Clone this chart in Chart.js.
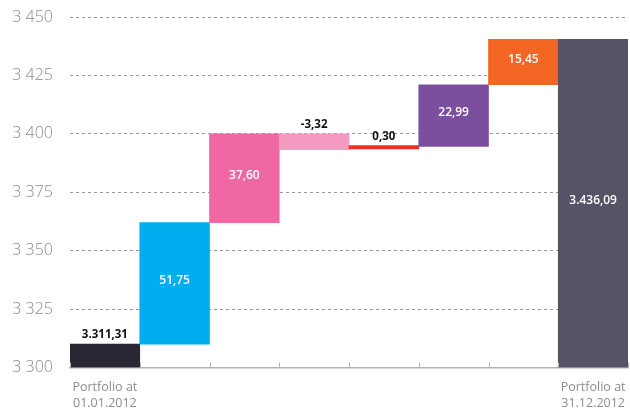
<!DOCTYPE html>
<html>
<head>
<meta charset="utf-8">
<script src="https://cdn.jsdelivr.net/npm/chart.js@4/dist/chart.umd.min.js"></script>
<style>
html,body{margin:0;padding:0;background:#fff;}
canvas{display:block;}
</style>
</head>
<body>
<canvas id="c" width="630" height="409"></canvas>
<script>
// Data
const categories = [
  ['Portfolio at', '01.01.2012'], '', '', '', '', '', '', ['Portfolio at', '31.12.2012']
];
const barStart = [3300, 3310, 3362, 3393.2, 3393.5, 3394.6, 3421, 3300];
const barEnd   = [3310, 3362, 3400, 3400,   3395,   3421,   3440.4, 3440.4];
const valueLabels = ['3.311,31', '51,75', '37,60', '-3,32', '0,30', '22,99', '15,45', '3.436,09'];
const yTicks = [3300, 3325, 3350, 3375, 3400, 3425, 3450];

const barColors = ['#2a2634', '#00aeef', '#ef67a3', '#f49ac1', '#ee3124', '#7b4f9e', '#f26522', '#575366'];
const FONT = '"Open Sans", Lato, sans-serif';

const ranges = barStart.map((s, i) => [s, barEnd[i]]);

const valueLabelPlugin = {
  id: 'valueLabels',
  afterDatasetsDraw(chart) {
    const ctx = chart.ctx;
    const meta = chart.getDatasetMeta(0);
    const y = chart.scales.y;
    ctx.save();
    ctx.textAlign = 'center';
    ctx.textBaseline = 'middle';
    meta.data.forEach((bar, i) => {
      const top = y.getPixelForValue(Math.max(barStart[i], barEnd[i]));
      const bot = y.getPixelForValue(Math.min(barStart[i], barEnd[i]));
      const h = bot - top;
      if (h > 30) {
        ctx.fillStyle = '#ffffff';
        ctx.font = '600 12px ' + FONT;
        ctx.fillText(valueLabels[i], bar.x, (top + bot) / 2 - 3);
      } else {
        ctx.fillStyle = '#111111';
        ctx.font = 'bold 11.5px ' + FONT;
        ctx.fillText(valueLabels[i], bar.x, top - 9);
      }
    });
    ctx.restore();
  }
};

const tickMarkPlugin = {
  id: 'catTicks',
  afterDraw(chart) {
    const ctx = chart.ctx;
    const x = chart.scales.x;
    const y0 = chart.scales.y.getPixelForValue(3300);
    const n = categories.length;
    const step = x.getPixelForValue(1) - x.getPixelForValue(0);
    ctx.save();
    ctx.strokeStyle = '#b4b4b4';
    ctx.lineWidth = 1;
    for (let i = 0; i <= n; i++) {
      const px = Math.round(x.getPixelForValue(i) - step / 2) + 0.5;
      ctx.beginPath();
      ctx.moveTo(px, y0 - 5);
      ctx.lineTo(px, y0);
      ctx.stroke();
    }
    ctx.restore();
  }
};

new Chart(document.getElementById('c'), {
  type: 'bar',
  data: {
    labels: categories,
    datasets: [{
      data: ranges,
      backgroundColor: barColors,
      borderWidth: 0,
      barPercentage: 1,
      categoryPercentage: 1
    }]
  },
  options: {
    responsive: false,
    animation: false,
    devicePixelRatio: 1,
    layout: { padding: { top: 17, right: 2, left: 0, bottom: 0 } },
    plugins: { legend: { display: false }, tooltip: { enabled: false } },
    scales: {
      x: {
        grid: { display: false },
        border: { display: true, color: '#b4b4b4', width: 1.5 },
        ticks: {
          color: '#8c8c8c',
          font: { family: FONT, size: 12.5, lineHeight: 1.25 },
          padding: 4,
          maxRotation: 0,
          autoSkip: false
        },
        afterFit(scale) { scale.height = 41.5; }
      },
      y: {
        min: 3300,
        max: 3450,
        afterBuildTicks(scale) { scale.ticks = yTicks.map(v => ({ value: v })); },
        grid: {
          drawTicks: false,
          color: ctx => (ctx.tick && ctx.tick.value === 3300) ? 'rgba(0,0,0,0)' : '#9a9a9a',
          lineWidth: 1
        },
        border: { display: true, color: 'rgba(0,0,0,0)', width: 0, dash: [3, 3] },
        ticks: {
          color: '#8c8c8c',
          font: { family: FONT, size: 16, weight: '300' },
          padding: 17,
          callback: v => String(v).replace(/\B(?=(\d{3})+(?!\d))/g, ' ')
        },
        afterFit(scale) { scale.width = 70; scale.paddingTop = 0; scale.paddingBottom = 0; }
      }
    }
  },
  plugins: [valueLabelPlugin, tickMarkPlugin]
});
</script>
</body>
</html>
